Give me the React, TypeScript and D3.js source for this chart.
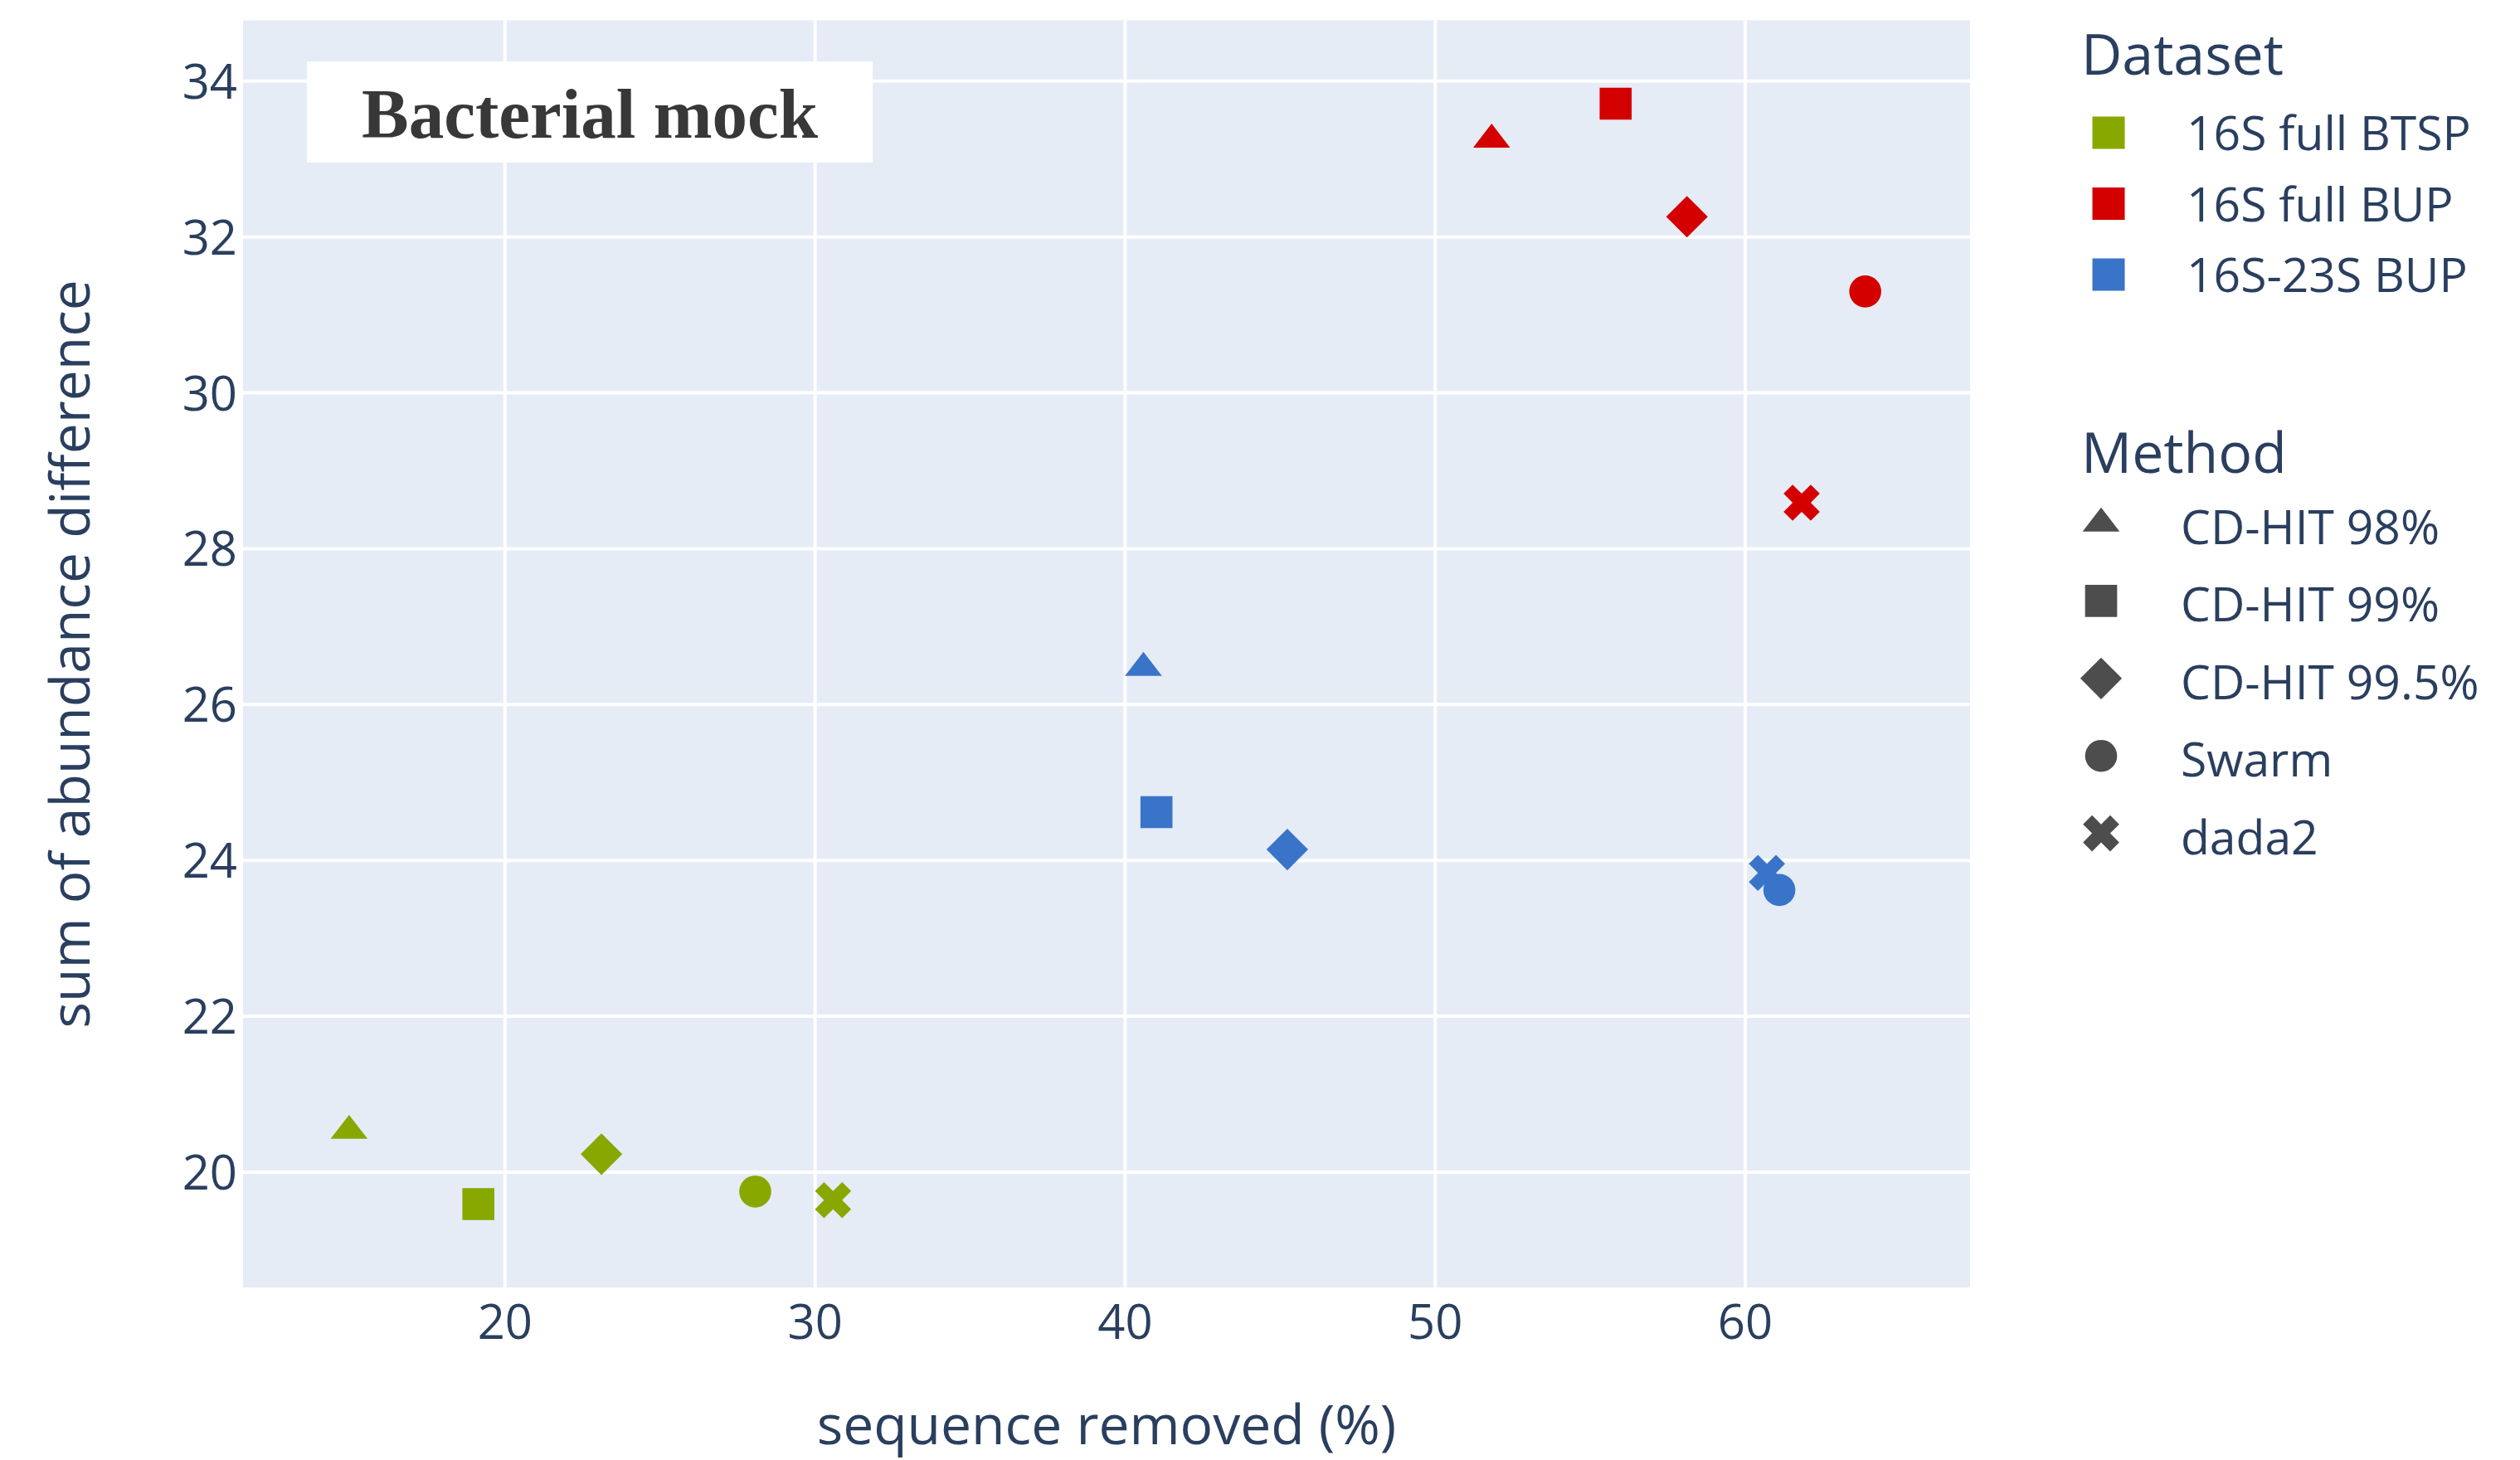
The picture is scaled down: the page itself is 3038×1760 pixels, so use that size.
import * as d3 from 'd3';

const datasets = ['16S full BTSP', '16S full BUP', '16S-23S BUP'];
const datasetColors = ['#88a800', '#d40000', '#3a74c8'];
const methods = ['CD-HIT 98%', 'CD-HIT 99%', 'CD-HIT 99.5%', 'Swarm', 'dada2'];
const methodSymbols = ['triangle', 'square', 'diamond', 'circle', 'x'];

// sequence removed (%) per method, one array per dataset
const btspX = [14.97, 19.14, 23.11, 28.07, 30.58];
const btspY = [20.53, 19.59, 20.23, 19.75, 19.64];
const bupX = [51.82, 55.82, 58.12, 63.87, 61.82];
const bupY = [33.25, 33.71, 32.26, 31.3, 28.59];
const its23X = [40.59, 41.01, 45.23, 61.1, 60.7];
const its23Y = [26.47, 24.62, 24.14, 23.62, 23.84];

const xTicks = [20, 30, 40, 50, 60];
const yTicks = [20, 22, 24, 26, 28, 30, 32, 34];

const W = 3038;
const H = 1760;
const plot = { left: 293, right: 2375, top: 24.5, bottom: 1552 };
const FONT = '"Open Sans", "DejaVu Sans", sans-serif';
const TEXT = '#2a3f5f';

// plotly-like marker paths
function symbolPath(sym: string, r: number): string {
  if (sym === 'triangle') {
    const rt = (r * 2) / Math.sqrt(3);
    return `M${-rt},${r / 2}H${rt}L0,${-r}Z`;
  }
  if (sym === 'square') return `M${r},${r}H${-r}V${-r}H${r}Z`;
  if (sym === 'diamond') {
    const rd = r * 1.3;
    return `M${rd},0L0,${rd}L${-rd},0L0,${-rd}Z`;
  }
  if (sym === 'circle') {
    return `M${r},0A${r},${r} 0 1,1 0,${-r}A${r},${r} 0 0,1 ${r},0Z`;
  }
  const a = (r * 0.8) / Math.sqrt(2);
  const ne = `l${a},${a}`;
  const se = `l${a},${-a}`;
  const sw = `l${-a},${-a}`;
  const nw = `l${-a},${a}`;
  return `M0,${a}${ne}${se}${sw}${se}${sw}${nw}${sw}${nw}${ne}${nw}${ne}Z`;
}

export default function App() {
  const x = d3.scaleLinear().domain([11.55, 67.25]).range([plot.left, plot.right]);
  const y = d3.scaleLinear().domain([18.52, 34.78]).range([plot.bottom, plot.top]);

  const series = [
    { xs: btspX, ys: btspY },
    { xs: bupX, ys: bupY },
    { xs: its23X, ys: its23Y },
  ];
  const r = 19.3;

  return (
    <svg
      width={W}
      height={H}
      style={{ position: 'absolute', left: 0, top: 0, background: '#fff' }}
    >
      <rect
        x={plot.left}
        y={plot.top}
        width={plot.right - plot.left}
        height={plot.bottom - plot.top}
        fill="#e5ecf6"
      />
      {xTicks.map((t) => (
        <line key={'gx' + t} x1={x(t)} x2={x(t)} y1={plot.top} y2={plot.bottom} stroke="#fff" strokeWidth={4} />
      ))}
      {yTicks.map((t) => (
        <line key={'gy' + t} x1={plot.left} x2={plot.right} y1={y(t)} y2={y(t)} stroke="#fff" strokeWidth={4} />
      ))}
      {xTicks.map((t) => (
        <text key={'tx' + t} x={x(t)} y={1614} textAnchor="middle" fontFamily={FONT} fontSize={58} fill={TEXT}>
          {t}
        </text>
      ))}
      {yTicks.map((t) => (
        <text key={'ty' + t} x={286} y={y(t) + 21} textAnchor="end" fontFamily={FONT} fontSize={58} fill={TEXT}>
          {t}
        </text>
      ))}
      <text x={(plot.left + plot.right) / 2} y={1741} textAnchor="middle" fontFamily={FONT} fontSize={66} fill={TEXT}>
        sequence removed (%)
      </text>
      <text
        transform={`translate(108,${(plot.top + plot.bottom) / 2}) rotate(-90)`}
        textAnchor="middle"
        fontFamily={FONT}
        fontSize={66}
        fill={TEXT}
      >
        sum of abundance difference
      </text>

      {series.map((s, di) =>
        s.xs.map((xv, mi) => (
          <path
            key={`p${di}-${mi}`}
            d={symbolPath(methodSymbols[mi], r)}
            transform={`translate(${x(xv)},${y(s.ys[mi])})`}
            fill={datasetColors[di]}
          />
        ))
      )}

      <rect x={370} y={74} width={682} height={122} fill="#fff" />
      <text
        x={711}
        y={166}
        textAnchor="middle"
        fontFamily='"Liberation Serif", "Times New Roman", serif'
        fontWeight="bold"
        fontSize={85}
        fill="#383838"
      >
        Bacterial mock
      </text>

      <text x={2509} y={90} fontFamily={FONT} fontSize={68} fill={TEXT}>
        Dataset
      </text>
      {datasets.map((d, i) => {
        const cy = 160 + i * 85.5;
        return (
          <g key={'ld' + d}>
            <rect x={2542 - 19.5} y={cy - 19.5} width={39} height={39} fill={datasetColors[i]} />
            <text x={2636} y={cy + 21} fontFamily={FONT} fontSize={57} fill={TEXT}>
              {d}
            </text>
          </g>
        );
      })}
      <text x={2509} y={570} fontFamily={FONT} fontSize={68} fill={TEXT}>
        Method
      </text>
      {methods.map((m, i) => {
        const cy = 631 + i * 93.4;
        return (
          <g key={'lm' + m}>
            <path d={symbolPath(methodSymbols[i], r)} transform={`translate(2533,${cy})`} fill="#4d4d4d" />
            <text x={2629} y={cy + 25} fontFamily={FONT} fontSize={57} fill={TEXT}>
              {m}
            </text>
          </g>
        );
      })}
    </svg>
  );
}
